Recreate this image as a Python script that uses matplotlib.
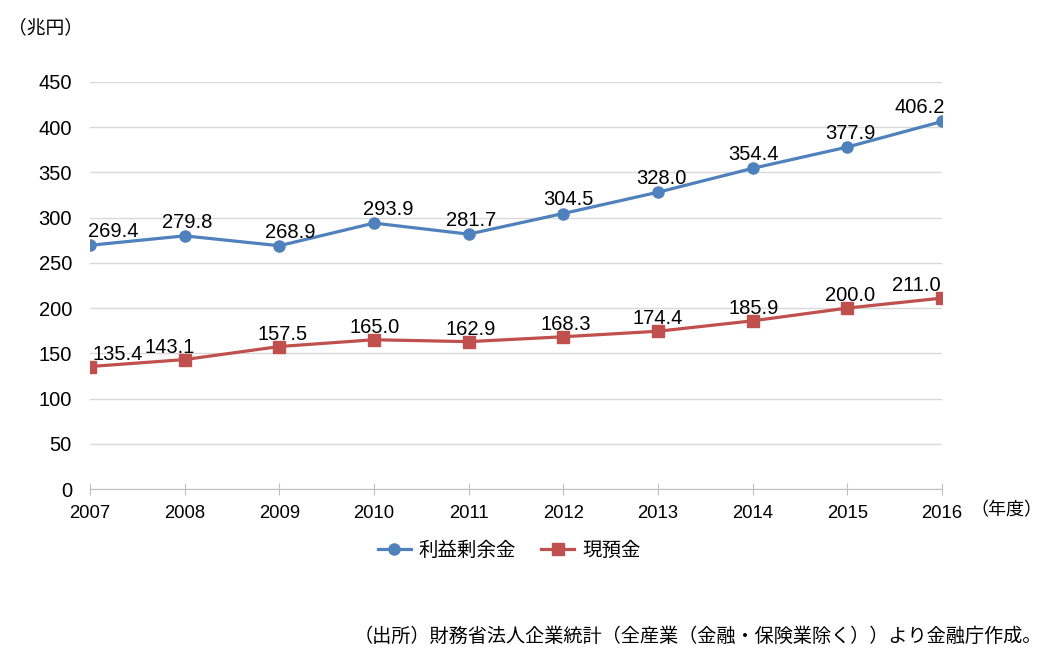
import matplotlib.pyplot as plt

plt.rcParams['font.family'] = ['Liberation Sans', 'Noto Sans CJK JP', 'DejaVu Sans']

years = [2007, 2008, 2009, 2010, 2011, 2012, 2013, 2014, 2015, 2016]
retained = [269.4, 279.8, 268.9, 293.9, 281.7, 304.5, 328.0, 354.4, 377.9, 406.2]
cash = [135.4, 143.1, 157.5, 165.0, 162.9, 168.3, 174.4, 185.9, 200.0, 211.0]

# label offsets (pixels) tuned by eye
retained_dx = [23, 3, 11, 14, 3, 5, 3, 1, 3, -22]
cash_dx = [28, -15, 3, 1, 2, 2, 0, 1, 3, -26]

BLUE = '#4F81BD'
RED = '#C0504D'
JP = ['Noto Sans CJK JP']

fig = plt.figure(figsize=(10.46, 6.6), dpi=100)
ax = fig.add_axes([0.086, 0.259, 0.8145, 0.617])

ax.plot(years, retained, color=BLUE, lw=2.3, marker='o', ms=8, label='利益剰余金', zorder=3)
ax.plot(years, cash, color=RED, lw=2.3, marker='s', ms=8, label='現預金', zorder=3)

for x, y, dx in zip(years, retained, retained_dx):
    ax.annotate(f'{y:.1f}', (x, y), xytext=(dx * 0.72, 3), textcoords='offset points',
                ha='center', va='bottom', fontsize=14.5)
for x, y, dx in zip(years, cash, cash_dx):
    ax.annotate(f'{y:.1f}', (x, y), xytext=(dx * 0.72, 2), textcoords='offset points',
                ha='center', va='bottom', fontsize=14.5)

ax.set_xlim(2007, 2016)
ax.set_ylim(0, 450)
ax.set_yticks(range(0, 451, 50))
ax.set_xticks(years)
ax.grid(axis='y', color='#D9D9D9', lw=1)
ax.set_axisbelow(True)
for s in ['top', 'right', 'left']:
    ax.spines[s].set_visible(False)
ax.spines['bottom'].set_color('#BFBFBF')
ax.tick_params(axis='y', length=0, labelsize=14.5, pad=13)
ax.tick_params(axis='x', direction='inout', length=9, color='#BFBFBF', labelsize=13.3, pad=7)

fig.text(0.008, 0.958, '（兆円）', fontsize=13.5, family=JP, va='center')
fig.text(0.928, 0.227, '（年度）', fontsize=13, family=JP, va='center')

ax.legend(loc='center', bbox_to_anchor=(0.492, -0.15), ncol=2, frameon=False,
          prop={'family': JP, 'size': 14},
          handlelength=1.7, columnspacing=1.3, handletextpad=0.4)

fig.text(0.996, 0.035, '（出所）財務省法人企業統計（全産業（金融・保険業除く））より金融庁作成。',
         fontsize=13.8, family=JP, ha='right', va='center')

fig.savefig('out.png', dpi=100)
